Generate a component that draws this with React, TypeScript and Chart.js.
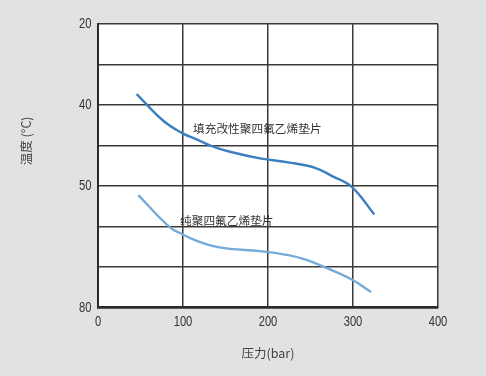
import React, { useEffect, useRef } from "react";
import { Chart, registerables } from "chart.js";

Chart.register(...registerables);

// Pressure (bar)
const filledX = [45.5, 76.8, 99.6, 116.1, 133.8, 155.3, 190.6, 223.9, 255.3, 274.9, 298.5, 325.1];
// grid-unit positions on the temperature axis (0 = top line labelled 20, 7 = bottom line labelled 80)
const filledY = [1.728, 2.388, 2.699, 2.847, 3.012, 3.153, 3.316, 3.415, 3.548, 3.746, 4.017, 4.699];

const pureX = [47.4, 83.9, 99.6, 116.1, 135.6, 155.3, 190.6, 223.9, 243.5, 267.1, 298.5, 321.2];
const pureY = [4.222, 5.005, 5.193, 5.351, 5.481, 5.548, 5.605, 5.704, 5.81, 6.007, 6.304, 6.61];

const yTickPositions = [0, 2, 4, 7];
const yTickLabels = ["20", "40", "50", "80"];
const xTicks = [0, 100, 200, 300, 400];

const seriesNames = ["填充改性聚四氟乙烯垫片", "纯聚四氟乙烯垫片"];
const labelX = [111.8, 96.5];
const labelY = [2.57, 4.86];

const xTitle = "压力(bar)";
const yTitle = "温度 (°C)";

const NUM_FONT = '"Liberation Sans", Arial, sans-serif';
const CJK_FONT = '"Noto Sans CJK SC", "Noto Sans", sans-serif';

export default function App() {
  const ref = useRef<HTMLCanvasElement | null>(null);

  useEffect(() => {
    const canvas = ref.current;
    if (!canvas) return;

    const plotBg = {
      id: "plotBg",
      beforeDraw(chart: any) {
        const { ctx, chartArea } = chart;
        ctx.save();
        ctx.fillStyle = "#ffffff";
        ctx.fillRect(chartArea.left, chartArea.top, chartArea.right - chartArea.left, chartArea.bottom - chartArea.top);
        ctx.restore();
      },
    };

    const textPlugin = {
      id: "texts",
      afterDatasetsDraw(chart: any) {
        const { ctx, scales, chartArea } = chart;
        ctx.save();
        ctx.fillStyle = "#333";
        ctx.font = `11.7px ${CJK_FONT}`;
        ctx.textAlign = "left";
        ctx.textBaseline = "middle";
        seriesNames.forEach((name, i) => {
          ctx.fillText(name, scales.x.getPixelForValue(labelX[i]), scales.y.getPixelForValue(labelY[i]));
        });
        // axis titles
        ctx.font = `12.5px ${CJK_FONT}`;
        ctx.fillStyle = "#444";
        ctx.textAlign = "center";
        ctx.fillText(xTitle, (chartArea.left + chartArea.right) / 2, 353);
        ctx.save();
        ctx.translate(26, (chartArea.top + chartArea.bottom) / 2 - 25);
        ctx.rotate(-Math.PI / 2);
        ctx.fillText(yTitle, 0, 0);
        ctx.restore();

        // tick labels (condensed numerals)
        ctx.fillStyle = "#333";
        ctx.font = `14px ${NUM_FONT}`;
        const sx = 0.8;
        ctx.textBaseline = "middle";
        ctx.textAlign = "right";
        yTickPositions.forEach((v, i) => {
          const py = scales.y.getPixelForValue(v);
          ctx.save();
          ctx.translate(91.5, py);
          ctx.scale(sx, 1);
          ctx.fillText(yTickLabels[i], 0, 0);
          ctx.restore();
        });
        ctx.textAlign = "center";
        xTicks.forEach((v) => {
          const px = scales.x.getPixelForValue(v);
          ctx.save();
          ctx.translate(px, chartArea.bottom + 14);
          ctx.scale(sx, 1);
          ctx.fillText(String(v), 0, 0);
          ctx.restore();
        });
        ctx.restore();
      },
    };

    const chart = new Chart(canvas, {
      type: "line",
      data: {
        datasets: [
          {
            label: seriesNames[0],
            data: filledX.map((x, i) => ({ x, y: filledY[i] })),
            borderColor: "#3d7fc1",
            borderWidth: 2.4,
            pointRadius: 0,
            tension: 0.4,
            fill: false,
          },
          {
            label: seriesNames[1],
            data: pureX.map((x, i) => ({ x, y: pureY[i] })),
            borderColor: "#74abd9",
            borderWidth: 2.4,
            pointRadius: 0,
            tension: 0.4,
            fill: false,
          },
        ],
      },
      options: {
        animation: false,
        responsive: false,
        layout: { padding: { left: 0, right: 48, top: 24, bottom: 0 } },
        plugins: { legend: { display: false }, tooltip: { enabled: false } },
        scales: {
          x: {
            type: "linear",
            min: 0,
            max: 400,
            afterBuildTicks: (s: any) => {
              s.ticks = xTicks.map((v) => ({ value: v }));
            },
            afterFit: (s: any) => {
              s.height = 68.3;
            },
            ticks: { display: false },
            grid: { color: "#3a3a3a", lineWidth: 1.5, drawTicks: false },
            border: { color: "#2a2a2a", width: 2.5 },
          },
          y: {
            type: "linear",
            min: 0,
            max: 7,
            reverse: true,
            afterBuildTicks: (s: any) => {
              s.ticks = [0, 1, 2, 3, 4, 5, 6, 7].map((v) => ({ value: v }));
            },
            afterFit: (s: any) => {
              s.width = 98;
            },
            ticks: { display: false },
            grid: { color: "#3a3a3a", lineWidth: 1.5, drawTicks: false },
            border: { color: "#2a2a2a", width: 2 },
          },
        },
      },
      plugins: [plotBg, textPlugin],
    } as any);

    return () => chart.destroy();
  }, []);

  return (
    <div
      style={{
        position: "fixed",
        left: 0,
        top: 0,
        width: 486,
        height: 376,
        background: "#e1e2e4",
      }}
    >
      <canvas ref={ref} width={486} height={376} style={{ display: "block" }} />
    </div>
  );
}
